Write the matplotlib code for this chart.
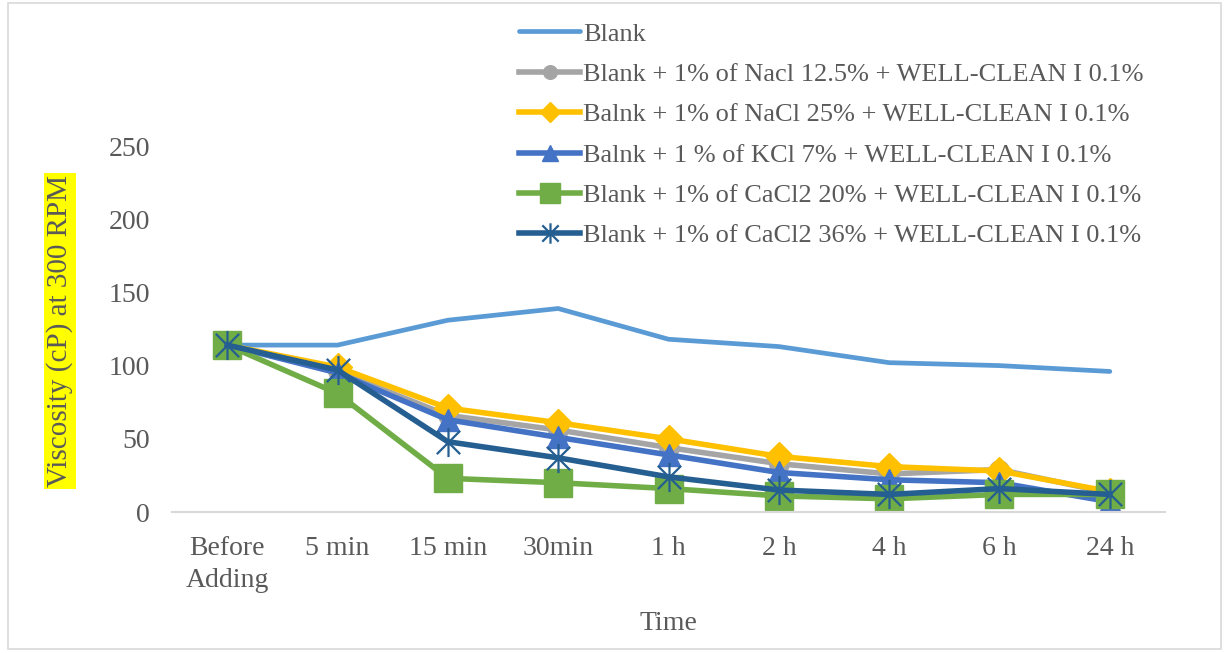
import matplotlib
matplotlib.use("Agg")
import matplotlib.pyplot as plt
from matplotlib.path import Path
from matplotlib.patches import Rectangle

plt.rcParams['font.family'] = ['Liberation Serif', 'DejaVu Serif']

times = ["Before\nAdding", "5 min", "15 min", "30min", "1 h", "2 h", "4 h", "6 h", "24 h"]

blank = [114, 114, 131, 139, 118, 113, 102, 100, 96]
nacl_125 = [114, 96, 66, 56, 44, 33, 26, 29, 13]
nacl_25 = [114, 99, 71, 61, 50, 38, 31, 28, 14]
kcl_7 = [114, 95, 63, 51, 39, 27, 22, 20, 7]
cacl2_20 = [114, 81, 23, 20, 16, 11, 9, 12, 12]
cacl2_36 = [114, 97, 48, 37, 24, 15, 12, 16, 12]

labels = [
    "Blank",
    "Blank + 1% of Nacl 12.5% + WELL-CLEAN I 0.1%",
    "Balnk + 1% of NaCl 25% + WELL-CLEAN I 0.1%",
    "Balnk + 1 % of KCl 7% + WELL-CLEAN I 0.1%",
    "Blank + 1% of CaCl2 20% + WELL-CLEAN I 0.1%",
    "Blank + 1% of CaCl2 36% + WELL-CLEAN I 0.1%",
]

# asterisk: vertical bar plus an X
star = Path([(0, -1), (0, 1), (-0.8, -0.8), (0.8, 0.8), (-0.8, 0.8), (0.8, -0.8)],
            [Path.MOVETO, Path.LINETO, Path.MOVETO, Path.LINETO, Path.MOVETO, Path.LINETO])

text_col = "#595959"

fig = plt.figure(figsize=(12.29, 6.53), dpi=100)
ax = fig.add_axes([172 / 1229, 141 / 653, 993 / 1229, 366 / 653])

x = list(range(len(times)))
ax.plot(x, blank, color="#5B9BD5", lw=3.4, solid_capstyle="round", label=labels[0])
ax.plot(x, nacl_125, color="#A5A5A5", lw=4.0, marker="o", ms=14, label=labels[1])
ax.plot(x, nacl_25, color="#FFC000", lw=4.0, marker="D", ms=14, label=labels[2])
ax.plot(x, kcl_7, color="#4472C4", lw=4.0, marker="^", ms=16, label=labels[3])
ax.plot(x, cacl2_20, color="#70AD47", lw=4.0, marker="s", ms=20, label=labels[4])
ax.plot(x, cacl2_36, color="#255E91", lw=4.0, marker=star, ms=21, mew=1.6,
        mfc="none", mec="#255E91", label=labels[5])

ax.set_xlim(-0.5, len(times) - 0.5)
ax.set_ylim(0, 250)
ax.set_yticks([0, 50, 100, 150, 200, 250])
ax.set_xticks(x)
ax.set_xticklabels(times, linespacing=1.4)
ax.tick_params(length=0, labelsize=20, labelcolor=text_col)
ax.tick_params(axis="y", pad=16)
ax.tick_params(axis="x", pad=17)
for side in ["top", "right", "left"]:
    ax.spines[side].set_visible(False)
ax.spines["bottom"].set_color("#D9D9D9")
ax.spines["bottom"].set_linewidth(1.5)
ax.patch.set_alpha(0)

ax.set_xlabel("Time", fontsize=20, color=text_col, labelpad=13)
fig.text(60 / 1229, 1 - 331 / 653, "Viscosity (cP) at 300 RPM", rotation=90,
         ha="center", va="center", fontsize=21, color=text_col,
         bbox=dict(facecolor="#FFFF00", edgecolor="none", pad=1.5))

leg = ax.legend(loc="upper left", bbox_to_anchor=(506 / 1229, 1 - 9 / 653),
                bbox_transform=fig.transFigure, frameon=False, fontsize=19,
                handlelength=2.3, handletextpad=0.12, labelspacing=0.64,
                borderpad=0, markerscale=0.7)
for t in leg.get_texts():
    t.set_color(text_col)

fig.patches.append(Rectangle((8 / 1229, 4 / 653), 1213 / 1229, 646 / 653,
                             transform=fig.transFigure, fill=False,
                             edgecolor="#D9D9D9", lw=1.2))

fig.savefig("out.png", dpi=100)
